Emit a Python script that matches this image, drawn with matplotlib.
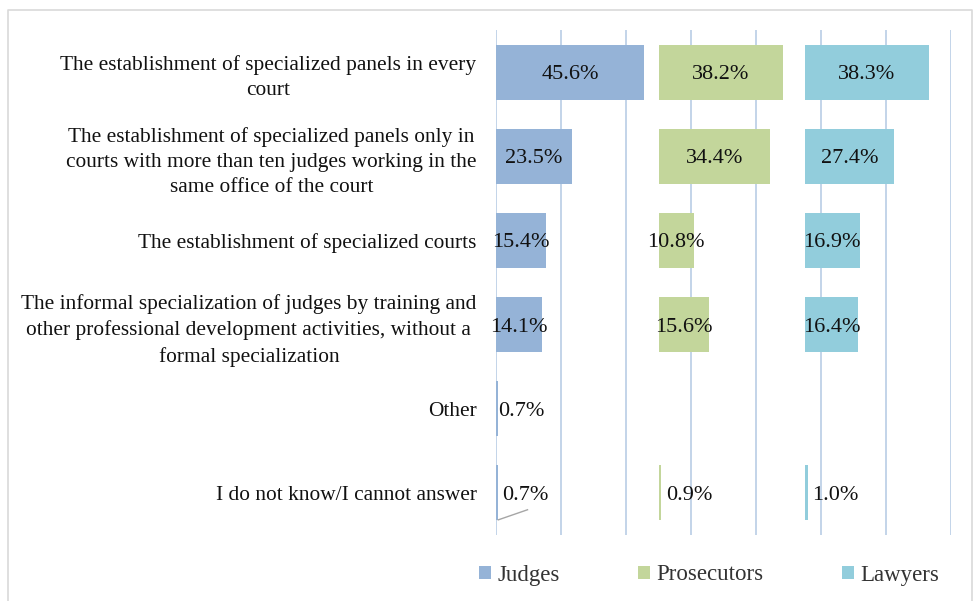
import numpy as np
import matplotlib.pyplot as plt
from matplotlib.patches import Patch
from matplotlib.lines import Line2D

categories = ['The establishment of specialized panels in every\ncourt',
              'The establishment of specialized panels only in\ncourts with more than ten judges working in the\nsame office of the court',
              'The establishment of specialized courts',
              'The informal specialization of judges by training and\nother professional development activities, without a\nformal specialization',
              'Other',
              'I do not know/I cannot answer']
groups = ['Judges', 'Prosecutors', 'Lawyers']
judges = [45.6, 23.5, 15.4, 14.1, 0.7, 0.7]
prosecutors = [38.2, 34.4, 10.8, 15.6, None, 0.9]
lawyers = [38.3, 27.4, 16.9, 16.4, None, 1.0]

colors = ['#95b3d7', '#c3d69b', '#92cddc']
offsets = [0, 50, 95]  # each group drawn in its own column of the axis

plt.rcParams['font.family'] = ['Liberation Serif', 'DejaVu Serif']
txt = '#111111'

W, H = 975, 601
fig = plt.figure(figsize=(W / 100, H / 100), dpi=100)
ax = fig.add_axes([496 / W, 1 - 535 / H, 455 / W, 505 / H])

y = np.arange(len(categories))
for vals, off, col in zip([judges, prosecutors, lawyers], offsets, colors):
    for i, v in enumerate(vals):
        if v is None:
            continue
        ax.barh(i, v, left=off, height=0.655, color=col, zorder=2)
        lab = '%.1f%%' % v
        if v >= 5:
            ax.text(off + v / 2, i + 0.03, lab, ha='center', va='center',
                    fontsize=16, color=txt, zorder=3)
        else:
            # 'Other' label sits right against its bar
            pad = 0.1 if i == 4 else 1.3
            ax.text(off + v + pad, i + 0.03, lab, ha='left', va='center',
                    fontsize=16, color=txt, zorder=3)

# leader line for the last judges label
ax.plot([judges[5], judges[5] + 9], [5.32, 5.2], color='#a6a6a6', lw=1, zorder=3)

ax.set_xlim(0, 140)
ax.set_ylim(len(categories) - 0.5, -0.5)
ax.set_xticks(np.arange(0, 141, 20))
ax.xaxis.grid(True, color='#b9cde5', lw=1.2, zorder=0)
ax.tick_params(axis='x', length=0, labelbottom=False)
for s in ax.spines.values():
    s.set_visible(False)

ax.set_yticks(y)
ax.set_yticklabels(categories, fontsize=15.4, color=txt)
ax.tick_params(axis='y', length=0, pad=14)
for t in ax.get_yticklabels():
    t.set_multialignment('center')
    t.set_linespacing(1.44)

handles = [Patch(facecolor=c, edgecolor='none') for c in colors]
fig.legend(handles, groups, loc='center', bbox_to_anchor=(709 / W, 1 - 575 / H),
           ncol=3, frameon=False, fontsize=16.5, handlelength=0.52, handleheight=0.52,
           handletextpad=0.3, columnspacing=3.4, labelcolor='#333333')

# light frame round the chart
fx = [8 / W, 8 / W, 972 / W, 972 / W]
fy = [0, 1 - 10 / H, 1 - 10 / H, 0]
fig.add_artist(Line2D(fx, fy, color='#d9d9d9', lw=1.2))

fig.savefig('out.png', dpi=100, facecolor='white')
